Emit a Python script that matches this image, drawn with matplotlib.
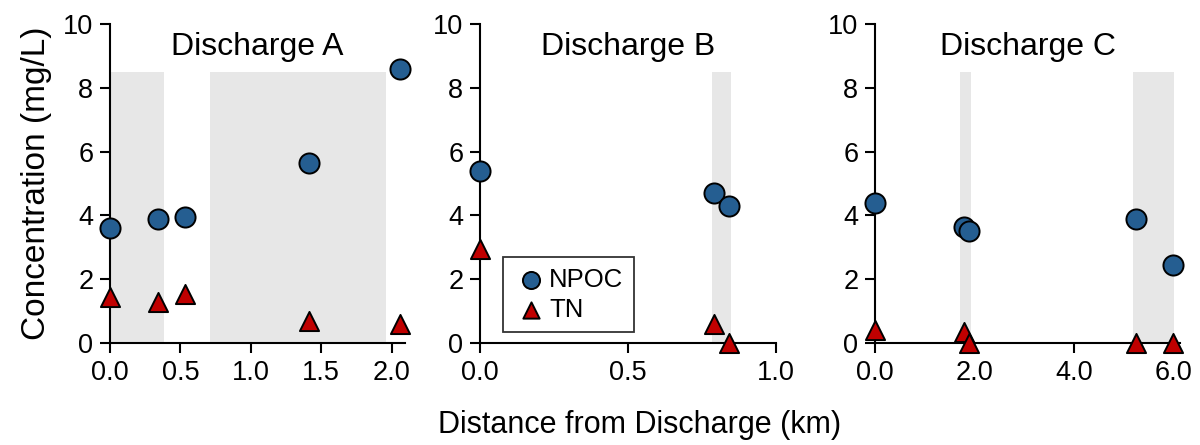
import matplotlib.pyplot as plt

plt.rcParams['font.family'] = ['Liberation Sans', 'DejaVu Sans']

# data
dist_a = [0.0, 0.34, 0.53, 1.41, 2.06]
npoc_a = [3.6, 3.9, 3.95, 5.65, 8.6]
tn_a = [1.45, 1.3, 1.55, 0.7, 0.6]
shade_a = [(0.0, 0.38), (0.71, 1.96)]

dist_b = [0.0, 0.79, 0.84]
npoc_b = [5.4, 4.7, 4.3]
tn_b = [2.95, 0.6, 0.0]
shade_b = [(0.784, 0.848)]

dist_c = [0.0, 1.8, 1.9, 5.25, 6.0]
npoc_c = [4.4, 3.65, 3.5, 3.9, 2.45]
tn_c = [0.4, 0.35, 0.0, 0.0, 0.0]
shade_c = [(1.72, 1.94), (5.2, 6.02)]

titles = ['Discharge A', 'Discharge B', 'Discharge C']
xticks_a = [0.0, 0.5, 1.0, 1.5, 2.0]
xticks_b = [0.0, 0.5, 1.0]
xticks_c = [0.0, 2.0, 4.0, 6.0]
yticks = [0, 2, 4, 6, 8, 10]

npoc_col = '#255E91'
tn_col = '#C00000'
shade_col = '#E7E7E7'

fig = plt.figure(figsize=(12, 4.45), dpi=100)
boxes = [[0.0917, 0.229, 0.2458, 0.717],
         [0.4, 0.229, 0.2467, 0.717],
         [0.7292, 0.229, 0.2542, 0.717]]
xlims = [(0, 2.095), (0, 1.0), (0, 6.14)]
panels = [(dist_a, npoc_a, tn_a, shade_a, xticks_a),
          (dist_b, npoc_b, tn_b, shade_b, xticks_b),
          (dist_c, npoc_c, tn_c, shade_c, xticks_c)]

for i, (d, npoc, tn, shade, xt) in enumerate(panels):
    ax = fig.add_axes(boxes[i])
    for s0, s1 in shade:
        ax.fill_between([s0, s1], 0, 8.5, color=shade_col, lw=0, zorder=0)
    ax.scatter(d, npoc, s=210, marker='o', color=npoc_col, edgecolor='black',
               linewidth=1.4, zorder=3, clip_on=False, label='NPOC')
    ax.scatter(d, tn, s=190, marker='^', color=tn_col, edgecolor='black',
               linewidth=1.4, zorder=3, clip_on=False, label='TN')
    ax.set_xlim(xlims[i])
    ax.set_ylim(0, 10)
    ax.set_xticks(xt)
    ax.set_xticklabels(['%.1f' % v for v in xt])
    ax.set_yticks(yticks)
    ax.spines['top'].set_visible(False)
    ax.spines['right'].set_visible(False)
    ax.spines['left'].set_linewidth(1.5)
    ax.spines['bottom'].set_linewidth(1.5)
    ax.tick_params(axis='both', direction='out', length=7, width=1.5,
                   labelsize=19.5, pad=5)
    ax.text(0.5, 0.975, titles[i], transform=ax.transAxes, ha='center',
            va='top', fontsize=23)
    if i == 0:
        ax.set_ylabel('Concentration (mg/L)', fontsize=24, labelpad=8)
    if i == 1:
        leg = ax.legend(loc='lower left', bbox_to_anchor=(0.078, 0.034),
                        borderaxespad=0, fontsize=18.5, frameon=True,
                        fancybox=False, handletextpad=0.0, borderpad=0.4,
                        labelspacing=0.25, markerscale=0.85,
                        handlelength=1.4)
        leg.get_frame().set_edgecolor('black')
        leg.get_frame().set_linewidth(1.3)

fig.text(0.533, 0.045, 'Distance from Discharge (km)', ha='center',
         va='center', fontsize=22)

fig.savefig('out.png', dpi=100)
